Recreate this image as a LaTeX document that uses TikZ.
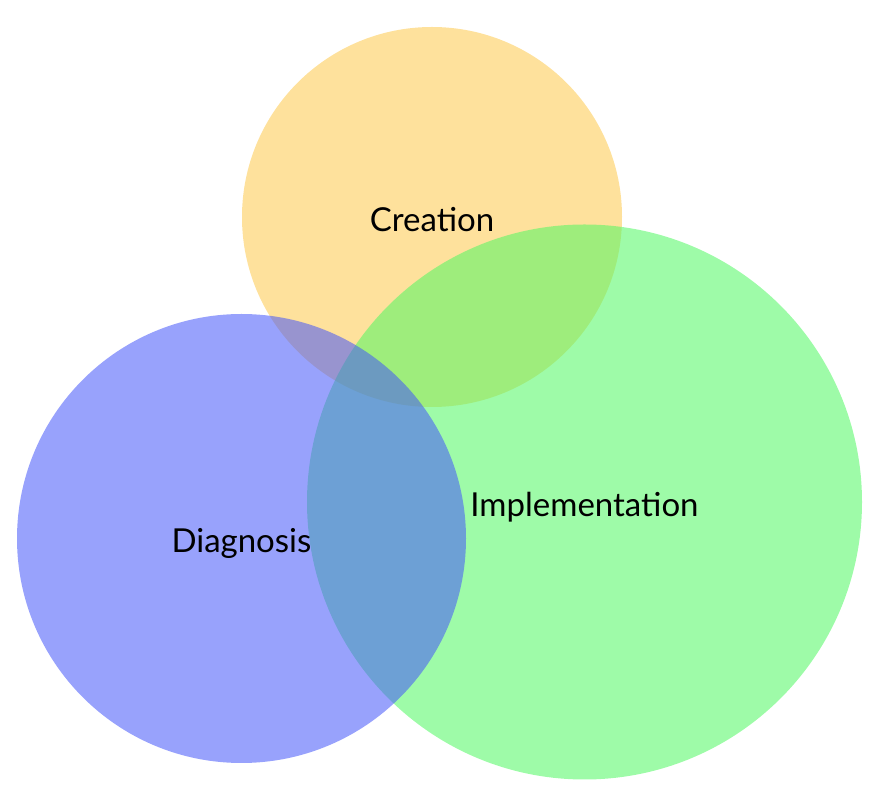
\documentclass[tikz,border=0pt]{standalone}
\usepackage{fontspec}
\setmainfont{Lato}
\definecolor{creationyellow}{RGB}{253,200,75}
\definecolor{implgreen}{RGB}{79,248,97}
\definecolor{diagblue}{RGB}{68,86,250}
\begin{document}
\begin{tikzpicture}[x=1pt,y=1pt,
  set/.style={circle, fill opacity=0.55, text opacity=1, inner sep=0pt,
    text height=29pt, text depth=0pt, font=\fontsize{33}{38}\selectfont}]
	\useasboundingbox (0,0) rectangle (892,798);
	\node[set, fill=creationyellow, minimum size=380pt] (creation) at (432,581) {Creation};
	\node[set, fill=implgreen, minimum size=555pt] (implementation) at (584.5,296) {Implementation};
	\node[set, fill=diagblue, minimum size=449pt] (diagnosis) at (241.5,259.5) {Diagnosis};
\end{tikzpicture}
\end{document}
